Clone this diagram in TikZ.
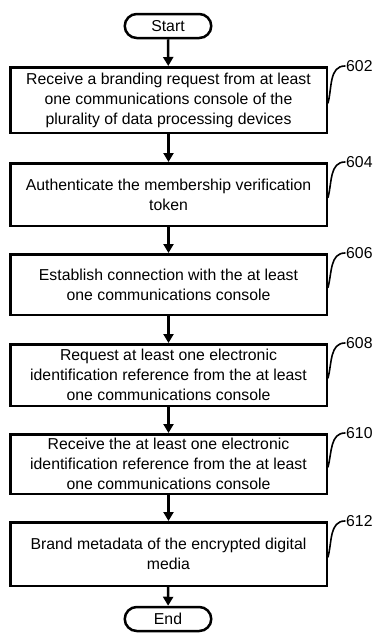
\documentclass[tikz,border=0pt]{standalone}
\usepackage{fontspec}
\setmainfont{Liberation Sans}
\usetikzlibrary{positioning,arrows.meta}
\tikzset{
	stepbox/.style={draw, line width=2.5pt, minimum width=316.5pt, align=center, inner sep=2pt},
	term/.style={draw, line width=2.5pt, rounded corners=12pt, minimum width=86.5pt, minimum height=24pt, inner sep=1pt},
	reflbl/.style={inner sep=1pt},
	flow/.style={-{Triangle[length=9pt,width=10pt]}, line width=2.5pt},
	tag/.style={line width=1.6pt, line cap=round}
}
\begin{document}
\begin{tikzpicture}[x=1pt, y=1pt, font=\fontsize{15.8}{20}\selectfont, line join=miter]
			\useasboundingbox (0,0) rectangle (382,-638);
			% terminals and steps
			\node[term] (start) at (168,-26) {Start};
			\node[stepbox, minimum height=65.5pt] (s602) at (168.5,-100)
				{Receive a branding request from at least\\one communications console of the\\plurality of data processing devices};
			\node[stepbox, minimum height=62.5pt] (s604) at (168.5,-194.5)
				{Authenticate the membership verification\\token};
			\node[stepbox, minimum height=60.5pt] (s606) at (168.5,-284.5)
				{Establish connection with the at least\\one communications console};
			\node[stepbox, minimum height=61.5pt] (s608) at (168.5,-375)
				{Request at least one electronic\\identification reference from the at least\\one communications console};
			\node[stepbox, minimum height=59.5pt] (s610) at (168.5,-464)
				{Receive the at least one electronic\\identification reference from the at least\\one communications console};
			\node[stepbox, minimum height=63.5pt] (s612) at (168.5,-554)
				{Brand metadata of the encrypted digital\\media};
			\node[term] (end) at (168,-619) {End};
			% reference numerals
			\foreach \n in {602,604,606,608,610,612}{
				\node[reflbl, right=17pt of s\n.north east] (l\n) {\n};
				\draw[tag] ([yshift=-3pt]s\n.east) to[out=75,in=180] (l\n.west);
			}
			% flow
			\draw[flow] (start) -- (s602);
			\draw[flow] (s602) -- (s604);
			\draw[flow] (s604) -- (s606);
			\draw[flow] (s606) -- (s608);
			\draw[flow] (s608) -- (s610);
			\draw[flow] (s610) -- (s612);
			\draw[flow] (s612) -- (end);
	\end{tikzpicture}
\end{document}
